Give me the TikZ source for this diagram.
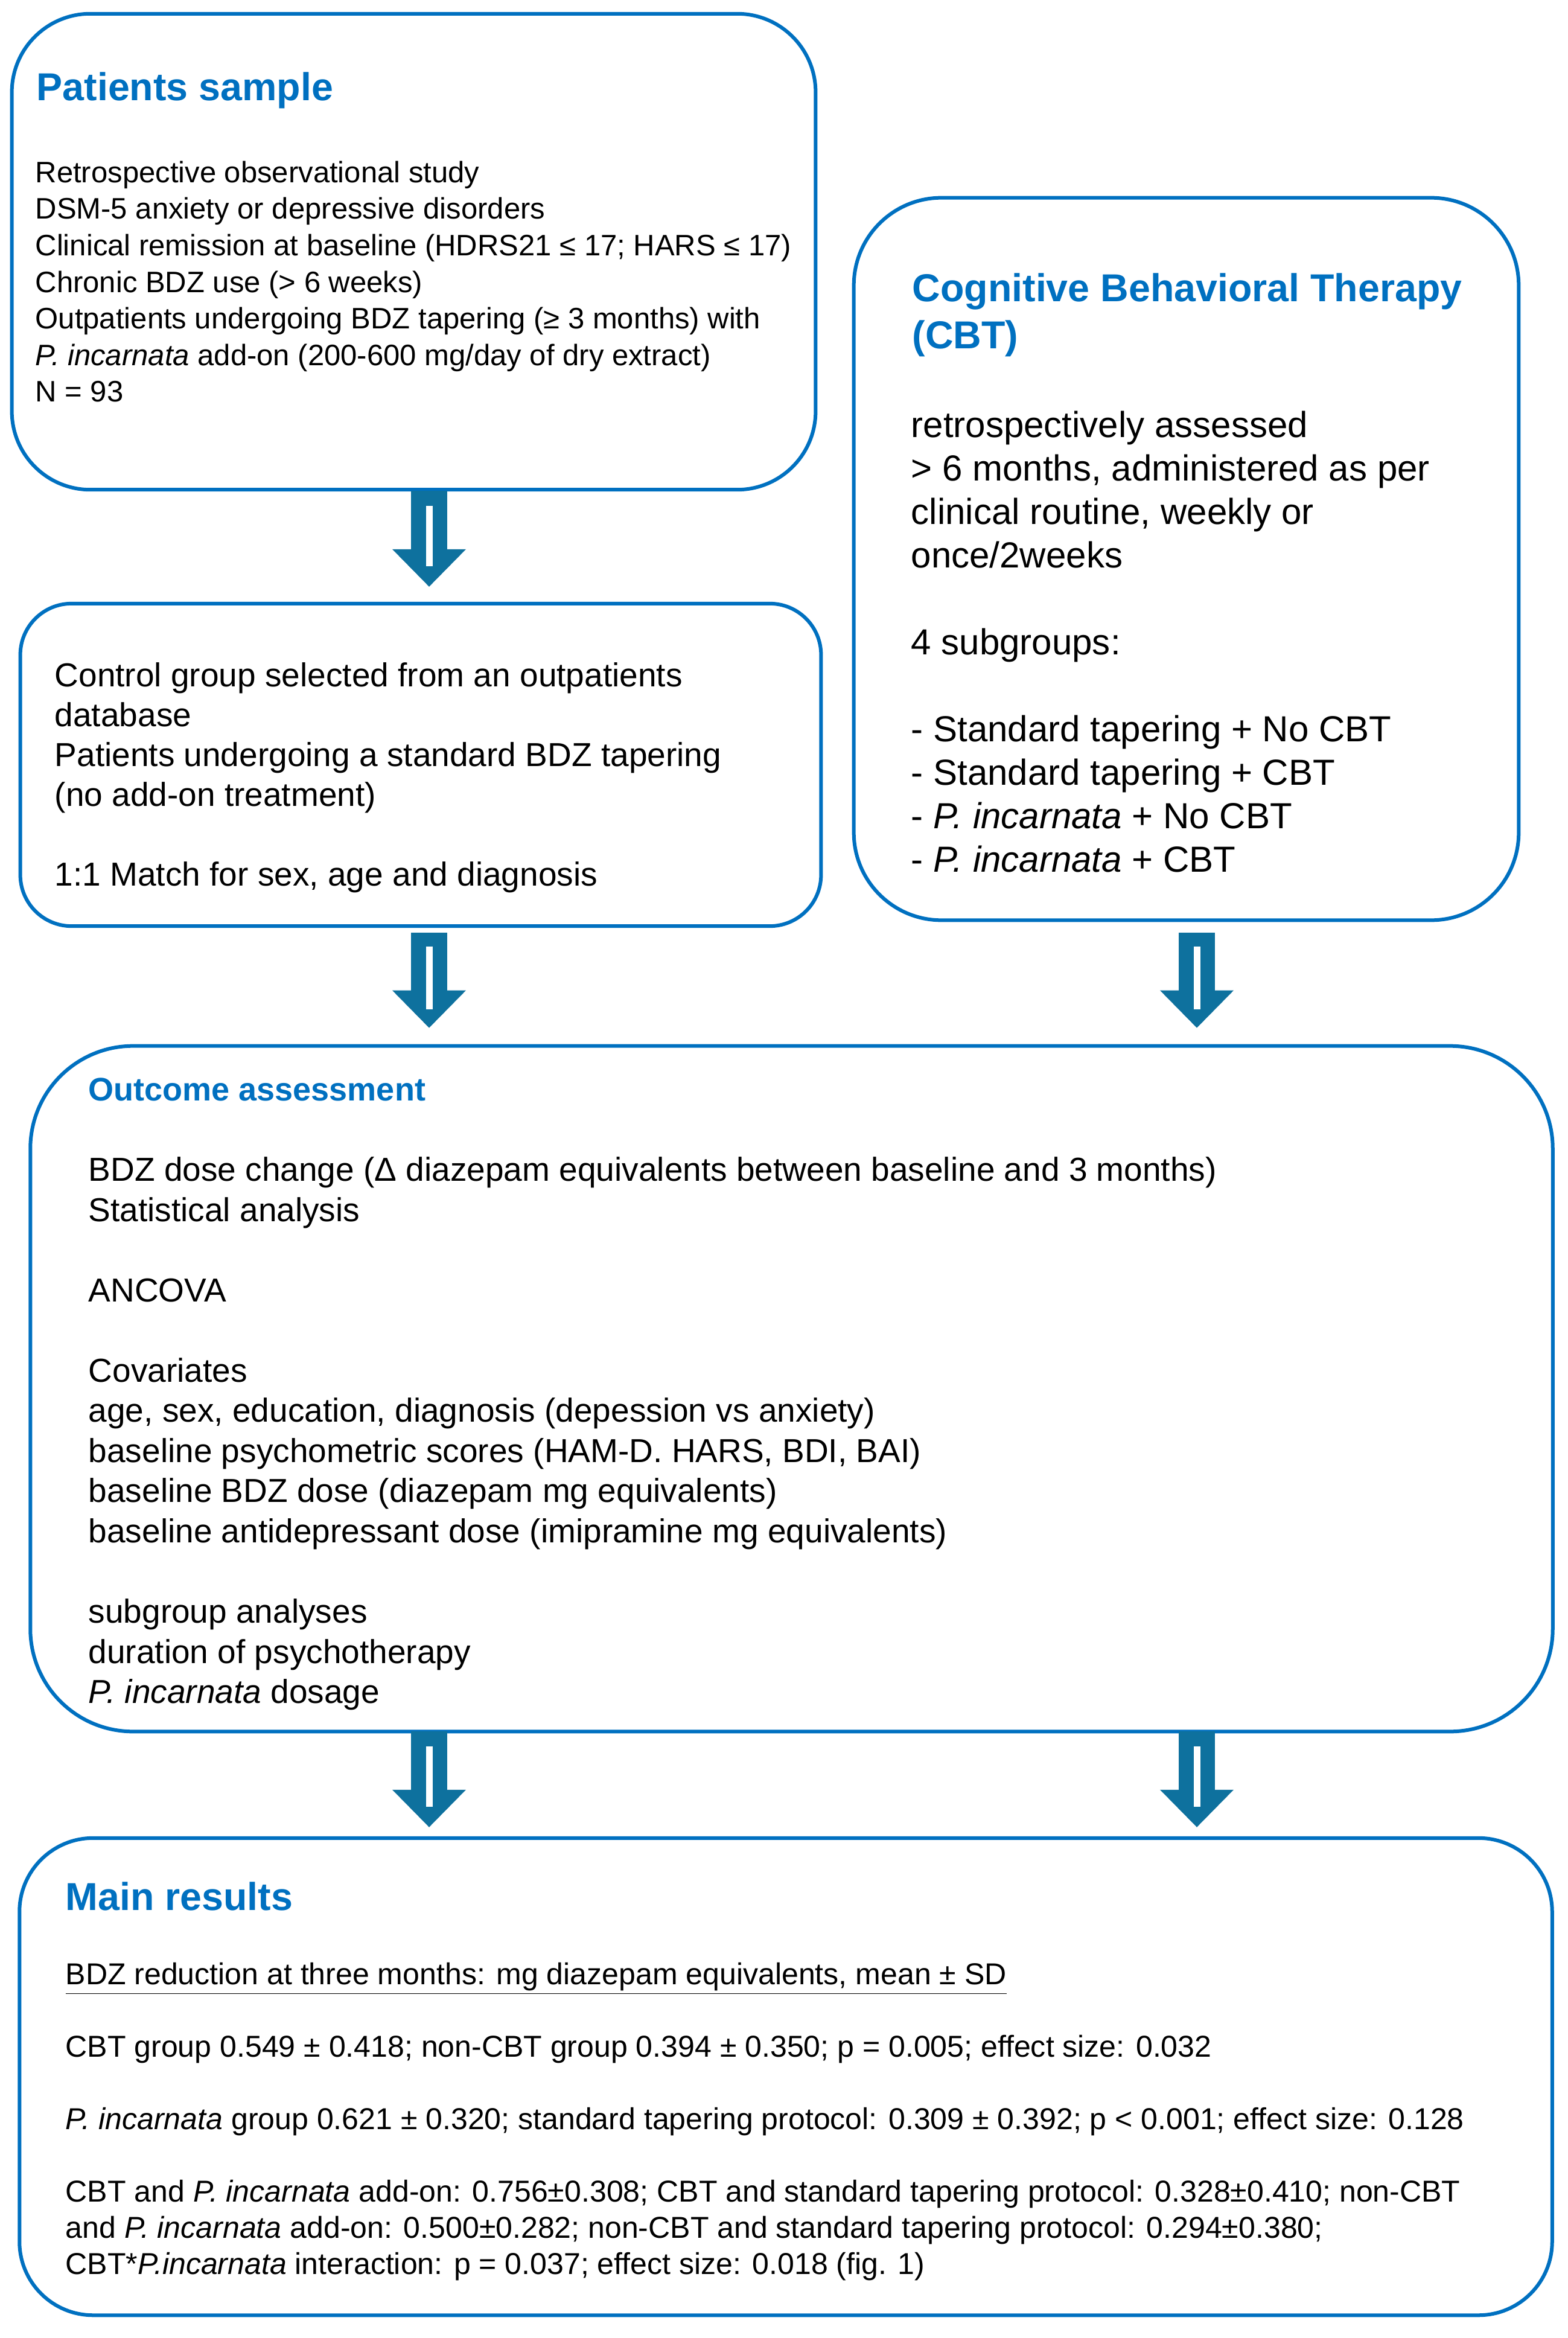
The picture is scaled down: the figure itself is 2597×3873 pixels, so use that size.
\documentclass[tikz,border=0pt]{standalone}
\usepackage{fontspec}
\setmainfont{Liberation Sans}
\usetikzlibrary{arrows.meta}

\definecolor{boxblue}{RGB}{0,112,192}
\definecolor{flowteal}{RGB}{14,113,158}

\tikzset{
  box/.style={rectangle, draw=boxblue, line width=0.06cm, outer sep=0pt, inner sep=0pt},
  title/.style={anchor=north west, inner sep=0pt, align=left, text=boxblue,
    font=\bfseries\fontsize{18.35pt}{22.2pt}\selectfont},
  body/.style={anchor=north west, inner sep=0pt, align=left},
  flow/.style={draw=flowteal, line width=0.6cm,
    arrows={-Triangle[width=1.22cm,length=0.62cm,line width=0pt]}},
  slit/.style={draw=white, line width=0.11cm},
}

\begin{document}
\begin{tikzpicture}[x=0.01cm, y=-0.01cm]
        \useasboundingbox (0,0) rectangle (2597,3873);

        % Boxes
        \node (sample) [box, minimum width=13.31cm, minimum height=7.88cm, rounded corners=1.3cm] at (685.5,417) {};
        \node (cbt) [box, minimum width=11.01cm, minimum height=11.96cm, rounded corners=1.45cm] at (1965.5,926) {};
        \node (ctrl) [box, minimum width=13.26cm, minimum height=5.34cm, rounded corners=0.85cm] at (697,1267) {};
        \node (outcome) [box, minimum width=25.21cm, minimum height=11.35cm, rounded corners=1.7cm] at (1311.5,2300.5) {};
        \node (results) [box, minimum width=25.38cm, minimum height=7.90cm, rounded corners=1.22cm] at (1302,3440) {};

        % Texts
        \node (sampletitle) [title] at (60,119) {Patients sample};
        \node (samplebody) [body, font=\fontsize{13.94pt}{17.24pt}\selectfont] at (58,266)
          {Retrospective observational study\\
           DSM-5 anxiety or depressive disorders\\
           Clinical remission at baseline (HDRS21 ≤ 17; HARS ≤ 17)\\
           Chronic BDZ use (> 6 weeks)\\
           Outpatients undergoing BDZ tapering (≥ 3 months) with\\
           \textit{P. incarnata} add-on (200-600 mg/day of dry extract)\\
           N = 93};

        \node (cbttitle) [title] at (1511,452) {Cognitive Behavioral Therapy\\(CBT)};
        \node (cbtbody) [body, font=\fontsize{17.07pt}{20.49pt}\selectfont] at (1509,680)
          {retrospectively assessed\\
           > 6 months, administered as per\\
           clinical routine, weekly or\\
           once/2weeks\\[20.49pt]
           4 subgroups:\\[20.49pt]
           - Standard tapering + No CBT\\
           - Standard tapering + CBT\\
           - \textit{P. incarnata} + No CBT\\
           - \textit{P. incarnata} + CBT};

        \node (ctrlbody) [body, font=\fontsize{15.65pt}{18.78pt}\selectfont] at (90,1097)
          {Control group selected from an outpatients\\
           database\\
           Patients undergoing a standard BDZ tapering\\
           (no add-on treatment)\\[18.78pt]
           1:1 Match for sex, age and diagnosis};

        \node (outcometitle) [title, font=\bfseries\fontsize{15.36pt}{18pt}\selectfont] at (146,1785) {Outcome assessment};
        \node (outcomebody) [body, font=\fontsize{15.65pt}{18.92pt}\selectfont] at (146,1916)
          {BDZ dose change (Δ diazepam equivalents between baseline and 3 months)\\
           Statistical analysis\\[18.92pt]
           ANCOVA\\[18.92pt]
           Covariates\\
           age, sex, education, diagnosis (depession vs anxiety)\\
           baseline psychometric scores (HAM-D. HARS, BDI, BAI)\\
           baseline BDZ dose (diazepam mg equivalents)\\
           baseline antidepressant dose (imipramine mg equivalents)\\[18.92pt]
           subgroup analyses\\
           duration of psychotherapy\\
           \textit{P. incarnata} dosage};

        \node (resultstitle) [title] at (108,3117) {Main results};
        \node (resultsbody) [body, font=\fontsize{14.23pt}{17.07pt}\selectfont] at (108,3250)
          {\underline{BDZ reduction at three months: mg diazepam equivalents, mean ± SD}\\[17.07pt]
           CBT group 0.549 ± 0.418; non-CBT group 0.394 ± 0.350; p = 0.005; effect size: 0.032\\[17.07pt]
           \textit{P. incarnata} group 0.621 ± 0.320; standard tapering protocol: 0.309 ± 0.392; p < 0.001; effect size: 0.128\\[17.07pt]
           CBT and \textit{P. incarnata} add-on: 0.756±0.308; CBT and standard tapering protocol: 0.328±0.410; non-CBT\\
           and \textit{P. incarnata} add-on: 0.500±0.282; non-CBT and standard tapering protocol: 0.294±0.380;\\
           CBT*\textit{P.incarnata} interaction: p = 0.037; effect size: 0.018 (fig. 1)};

        % Edges
        \coordinate (colL) at (711,0);
        \coordinate (colR) at (1983,0);

        \draw[flow, shorten <=0.02cm, shorten >=0.28cm] (sample.south -| colL) -- (ctrl.north -| colL);
        \draw[slit, shorten <=0.27cm, shorten >=0.62cm] (sample.south -| colL) -- (ctrl.north -| colL);

        \draw[flow, shorten <=0.11cm, shorten >=0.30cm] (ctrl.south -| colL) -- (outcome.north -| colL);
        \draw[slit, shorten <=0.34cm, shorten >=0.61cm] (ctrl.south -| colL) -- (outcome.north -| colL);
        \draw[flow, shorten <=0.21cm, shorten >=0.30cm] (cbt.south -| colR) -- (outcome.north -| colR);
        \draw[slit, shorten <=0.44cm, shorten >=0.61cm] (cbt.south -| colR) -- (outcome.north -| colR);

        \draw[flow, shorten >=0.18cm] (outcome.south -| colL) -- (results.north -| colL);
        \draw[slit, shorten <=0.25cm, shorten >=0.52cm] (outcome.south -| colL) -- (results.north -| colL);
        \draw[flow, shorten >=0.18cm] (outcome.south -| colR) -- (results.north -| colR);
        \draw[slit, shorten <=0.25cm, shorten >=0.52cm] (outcome.south -| colR) -- (results.north -| colR);

\end{tikzpicture}
\end{document}
